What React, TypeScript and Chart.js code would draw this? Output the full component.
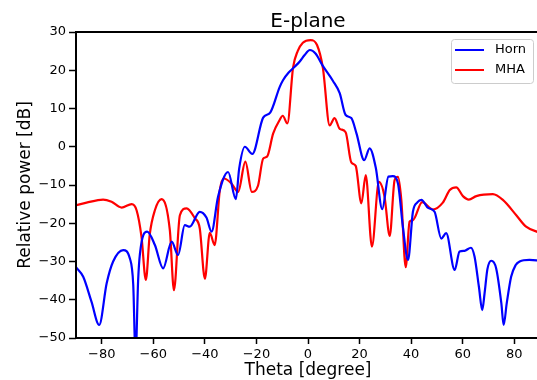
import React, { useEffect, useRef } from 'react';
import { Chart, registerables } from 'chart.js';

Chart.register(...registerables);

const chartTitle = 'E-plane';
const xLabel = 'Theta [degree]';
const yLabel = 'Relative power [dB]';
const seriesLabels = ['Horn', 'MHA'];
const seriesColors = ['#0000ff', '#ff0000'];
const xTickValues = [-80, -60, -40, -20, 0, 20, 40, 60, 80];
const yTickValues = [-50, -40, -30, -20, -10, 0, 10, 20, 30];

const hornTheta = [
  -90, -87.2, -84, -81, -78.1, -75.6, -71.7, -69.1, -67.8, -66.9, -65.9, -65.2,
  -62.4, -59.4, -56.2, -52.9, -50.4, -47.8, -45.9, -42, -39.4, -37.4, -34.9, -31,
  -28, -26.7, -24.5, -21.6, -17.4, -14.6, -11, -9.7, -7.5, -5.2, -3.2, -1.3, 0.7,
  3, 5.5, 9.7, 12.3, 14.6, 16.8, 18.8, 21.8, 23.9, 26.3, 28.8, 31.2, 32.9, 34.9,
  36.8, 38.8, 40.7, 42.5, 44, 46.6, 49.1, 51.7, 53.6, 56.9, 58.8, 60.7, 63.2, 64.6,
  66.3, 67.6, 68.5, 69.6, 71.1, 73, 75, 75.9, 77.1, 78.8, 80.5, 82.1, 85.9, 90,
];
const hornPower = [
  -31.5, -34, -40.5, -46.6, -35.7, -30, -27, -29.2, -36, -55, -35, -28,
  -22.2, -25.7, -31.8, -24.8, -28.3, -20.5, -20.9, -17, -18.5, -22.2, -13.1, -6.6,
  -13.7, -5.7, 0, -1.9, 7.6, 9, 15.6, 17.4, 19.4, 20.9, 22.3, 24, 25.3,
  24.3, 21.4, 17.2, 14, 8.3, 7.5, 3.5, -3.5, -0.4, -5.5, -16.3, -7.8, -7.7, -9.6,
  -20.9, -29.6, -17, -14.5, -13.9, -16, -17, -24, -22.6, -32.2, -27.4, -27.2, -26.4, -28.7,
  -36.6, -42.7, -38.3, -32, -29.8, -31.8, -40.9, -46.6, -40.9, -34, -31, -30, -29.6, -29.8,
];

const mhaTheta = [
  -90, -85.9, -79.5, -76.2, -72.3, -68.4, -66.5, -64.6, -62.9, -61.4, -59.4, -56.8,
  -53.6, -52, -49.7, -47.1, -43.9, -42, -40, -38.1, -36.2, -34.2, -32.6, -29.7,
  -27.1, -24.3, -21.8, -19.4, -17.4, -15.9, -13.5, -11, -9.8, -8, -5.8, -4, -2, 1,
  3.5, 5.8, 8.4, 10.3, 12.3, 14.6, 16.8, 18.5, 20.7, 22.4, 24.8, 27.5, 29.7, 31.7,
  33.6, 34.9, 36.2, 37.9, 39.4, 40.7, 44.3, 48.4, 52.3, 55, 57.5, 60.1, 62.4, 65.3,
  71.7, 75.6, 80.8, 84.6, 90,
];
const mhaPower = [
  -15.3, -14.6, -13.8, -14.4, -15.9, -15, -16.6, -23.5, -34.8, -23, -16.6, -13.7,
  -21.8, -37.5, -17.9, -16.1, -18.7, -21.3, -34.5, -22.5, -25.7, -11.3, -8.3, -9.6,
  -11.8, -3.9, -11.8, -10.2, -3.1, -2.6, 3.5, 7, 8.1, 6.1, 20.7, 25, 27.2, 27.9,
  26.6, 20.5, 5.6, 7.5, 4.7, 3.8, -4.1, -5, -14.8, -7.4, -26.1, -9.2, -13.1, -23.3,
  -8.7, -7.9, -13.9, -31.5, -19.6, -19.2, -14.5, -16.4, -14.6, -11.3, -10.6, -12.9, -13.8, -12.9,
  -12.4, -13.9, -17.9, -20.9, -22.5,
];

const FONT = 'DejaVu Sans';
const fmt = (v: number) => (v < 0 ? '\u2212' + Math.abs(v) : String(v));

const framePlugin = {
  id: 'frameAndLegend',
  afterDatasetsDraw(chart: any) {
    const { ctx, chartArea: a } = chart;
    ctx.save();
    ctx.strokeStyle = '#000';
    ctx.lineWidth = 2;
    ctx.strokeRect(a.left, a.top, a.right - a.left, a.bottom - a.top);

    // legend box (upper right, inside axes)
    const w = 82;
    const h = 44;
    const bx = a.right - 7 - w;
    const by = a.top + 7;
    ctx.beginPath();
    (ctx as any).roundRect(bx + 0.5, by + 0.5, w, h, 3);
    ctx.fillStyle = 'rgba(255,255,255,0.8)';
    ctx.fill();
    ctx.strokeStyle = '#cccccc';
    ctx.lineWidth = 1;
    ctx.stroke();
    chart.data.datasets.forEach((ds: any, i: number) => {
      const y = by + 11 + i * 20;
      ctx.beginPath();
      ctx.strokeStyle = ds.borderColor;
      ctx.lineWidth = 2;
      ctx.moveTo(bx + 4, y);
      ctx.lineTo(bx + 33, y);
      ctx.stroke();
      ctx.fillStyle = '#000';
      ctx.font = `13px "${FONT}"`;
      ctx.textBaseline = 'middle';
      ctx.textAlign = 'left';
      ctx.fillText(ds.label, bx + 44, y);
    });
    ctx.restore();
  },
};

export default function App() {
  const ref = useRef<HTMLCanvasElement | null>(null);

  useEffect(() => {
    if (!ref.current) return;
    const mk = (th: number[], pw: number[]) => th.map((t, i) => ({ x: t, y: pw[i] }));
    const chart = new Chart(ref.current, {
      type: 'line',
      data: {
        datasets: [
          {
            label: seriesLabels[0],
            data: mk(hornTheta, hornPower),
            borderColor: seriesColors[0],
            backgroundColor: seriesColors[0],
            borderWidth: 2.2,
            pointRadius: 0,
            fill: false,
            cubicInterpolationMode: 'monotone',
          },
          {
            label: seriesLabels[1],
            data: mk(mhaTheta, mhaPower),
            borderColor: seriesColors[1],
            backgroundColor: seriesColors[1],
            borderWidth: 2.2,
            pointRadius: 0,
            fill: false,
            cubicInterpolationMode: 'monotone',
          },
        ],
      },
      options: {
        responsive: false,
        animation: false,
        devicePixelRatio: 1,
        events: [],
        layout: { padding: { left: 0, right: 2, top: 0, bottom: 0 } },
        plugins: {
          legend: { display: false },
          tooltip: { enabled: false },
          title: {
            display: true,
            text: chartTitle,
            fullSize: false,
            color: '#000',
            font: { family: FONT, size: 20, weight: 'normal', lineHeight: 1 },
            padding: { top: 12, bottom: 0 },
          },
        },
        scales: {
          x: {
            type: 'linear',
            min: -90,
            max: 90,
            afterFit: (s: any) => {
              s.height = 46;
            },
            afterBuildTicks: (s: any) => {
              s.ticks = xTickValues.map((v) => ({ value: v }));
            },
            border: { display: false },
            grid: { drawOnChartArea: false, drawTicks: true, tickLength: 6, tickWidth: 1.5, tickColor: '#000' },
            ticks: {
              color: '#000',
              font: { family: FONT, size: 13 },
              padding: 3,
              maxRotation: 0,
              callback: (v: any) => fmt(Number(v)),
            },
            title: {
              display: true,
              text: xLabel,
              color: '#000',
              font: { family: FONT, size: 17 },
              padding: { top: 0, bottom: 3 },
            },
          },
          y: {
            type: 'linear',
            min: -50,
            max: 30,
            afterFit: (s: any) => {
              s.width = 76;
            },
            afterBuildTicks: (s: any) => {
              s.ticks = yTickValues.map((v) => ({ value: v }));
            },
            border: { display: false },
            grid: { drawOnChartArea: false, drawTicks: true, tickLength: 7, tickWidth: 1.5, tickColor: '#000' },
            ticks: {
              color: '#000',
              font: { family: FONT, size: 13 },
              padding: 3,
              callback: (v: any) => fmt(Number(v)),
            },
            title: {
              display: true,
              text: yLabel,
              color: '#000',
              font: { family: FONT, size: 17 },
              padding: { top: 15, bottom: 0 },
            },
          },
        },
      },
      plugins: [framePlugin],
    } as any);
    return () => chart.destroy();
  }, []);

  return (
    <div
      style={{
        position: 'fixed',
        left: 0,
        top: 0,
        width: 537,
        height: 380,
        overflow: 'hidden',
        background: '#fff',
      }}
    >
      <canvas ref={ref} width={542} height={384} style={{ display: 'block' }} />
    </div>
  );
}
